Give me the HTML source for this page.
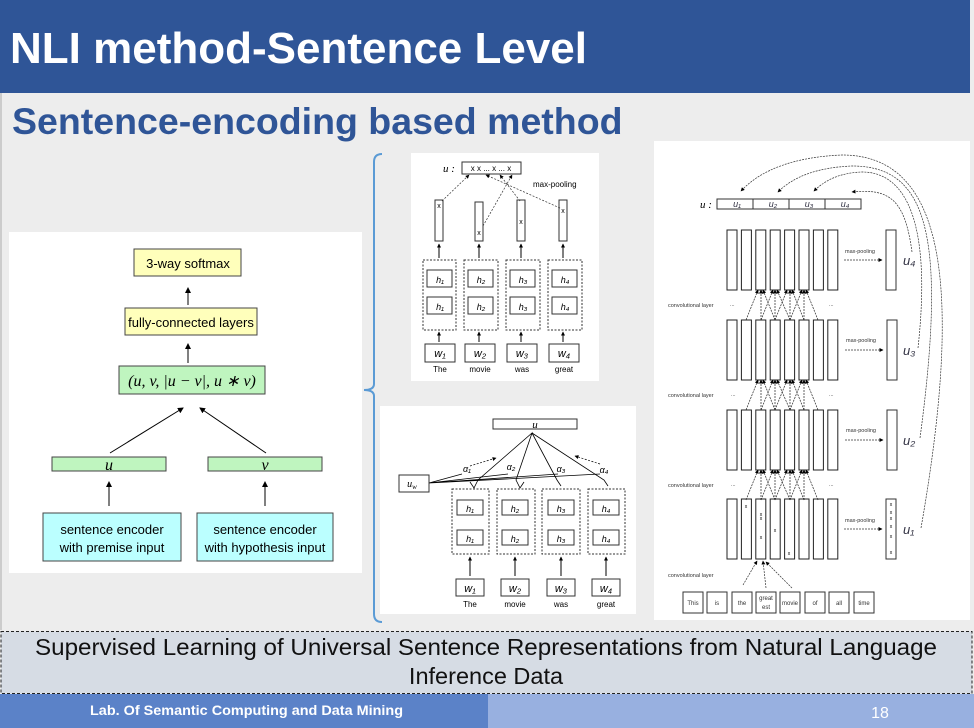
<!DOCTYPE html>
<html><head><meta charset="utf-8"><style>
html,body{margin:0;padding:0;background:#EDEDED;}
svg{display:block;}
text{font-family:"Liberation Sans",sans-serif;}
.m{font-family:"Liberation Serif",serif;font-style:italic;}
</style></head><body>
<svg width="974" height="728" viewBox="0 0 974 728" xmlns="http://www.w3.org/2000/svg">
<defs>
<marker id="a" markerWidth="6" markerHeight="6" refX="5" refY="3" orient="auto" markerUnits="userSpaceOnUse"><path d="M0,0 L6,3 L0,6 z" fill="#000"/></marker>
<marker id="s" markerWidth="4" markerHeight="4" refX="3.5" refY="2" orient="auto" markerUnits="userSpaceOnUse"><path d="M0,0 L4,2 L0,4 z" fill="#000"/></marker>
<g id="cols" fill="#fff" stroke="#222" stroke-width="1">
<rect x="727" y="0" width="10" height="60"/><rect x="741.4" y="0" width="10" height="60"/><rect x="755.8" y="0" width="10" height="60"/><rect x="770.2" y="0" width="10" height="60"/><rect x="784.6" y="0" width="10" height="60"/><rect x="799" y="0" width="10" height="60"/><rect x="813.4" y="0" width="10" height="60"/><rect x="827.8" y="0" width="10" height="60"/>
</g>
<g id="conv" stroke="#222" stroke-width="0.7" stroke-dasharray="2,1" marker-end="url(#s)">
<line x1="746" y1="30" x2="758" y2="0"/><line x1="761" y1="30" x2="761" y2="0"/><line x1="775" y1="30" x2="763" y2="0"/>
<line x1="761" y1="30" x2="773" y2="0"/><line x1="775" y1="30" x2="775" y2="0"/><line x1="790" y1="30" x2="777" y2="0"/>
<line x1="775" y1="30" x2="787" y2="0"/><line x1="790" y1="30" x2="790" y2="0"/><line x1="804" y1="30" x2="792" y2="0"/>
<line x1="790" y1="30" x2="802" y2="0"/><line x1="804" y1="30" x2="804" y2="0"/><line x1="818" y1="30" x2="806" y2="0"/>
</g>
</defs>

<!-- header -->
<rect x="0" y="0" width="970" height="93" fill="#2F5597"/>
<text x="10" y="63" font-size="44" font-weight="bold" fill="#fff">NLI method-Sentence Level</text>
<line x1="1" y1="93" x2="1" y2="630" stroke="#aaa"/>
<text x="12" y="134" font-size="37.5" font-weight="bold" fill="#2F5597">Sentence-encoding based method</text>

<!-- left diagram -->
<rect x="9" y="232" width="353" height="341" fill="#fff"/>
<g stroke="#444" stroke-width="1">
<rect x="134" y="249" width="107" height="27" fill="#FFFFBB"/>
<rect x="125" y="308" width="132" height="27" fill="#FFFFBB"/>
<rect x="119" y="366" width="146" height="28" fill="#BFF5BF"/>
<rect x="52" y="457" width="114" height="14" fill="#BFF5BF"/>
<rect x="208" y="457" width="114" height="14" fill="#BFF5BF"/>
<rect x="43" y="513" width="138" height="48" fill="#BBFFFF"/>
<rect x="197" y="513" width="136" height="48" fill="#BBFFFF"/>
</g>
<g stroke="#000" stroke-width="1" marker-end="url(#a)">
<line x1="188" y1="305" x2="188" y2="288"/>
<line x1="188" y1="363" x2="188" y2="344"/>
<line x1="110" y1="453" x2="183" y2="408"/>
<line x1="266" y1="453" x2="200" y2="408"/>
<line x1="109" y1="506" x2="109" y2="482"/>
<line x1="265" y1="506" x2="265" y2="482"/>
</g>
<g font-size="13" fill="#000" text-anchor="middle">
<text x="188" y="268">3-way softmax</text>
<text x="191" y="327">fully-connected layers</text>
<text x="112" y="534">sentence encoder</text>
<text x="112" y="552">with premise input</text>
<text x="265" y="534">sentence encoder</text>
<text x="265" y="552">with hypothesis input</text>
</g>
<text x="192" y="386" font-size="16" text-anchor="middle" class="m">(u, v, |u − v|, u ∗ v)</text>
<text x="109" y="470" font-size="16" text-anchor="middle" class="m">u</text>
<text x="265" y="470" font-size="16" text-anchor="middle" class="m">v</text>

<!-- bracket -->
<path d="M382,154 Q374,154 374,162 L374,384 Q374,390 364,390 Q374,390 374,396 L374,614 Q374,622 382,622" fill="none" stroke="#5B9BD5" stroke-width="2"/>

<!-- middle top -->
<rect x="411" y="153" width="188" height="228" fill="#fff"/>
<rect x="462" y="162" width="59" height="12" fill="#fff" stroke="#333"/>
<text x="443" y="172" font-size="11" class="m">u :</text>
<text x="491" y="171" font-size="8" text-anchor="middle">x  x ... x ... x</text>
<text x="533" y="187" font-size="8">max-pooling</text>
<g fill="#fff" stroke="#333">
<rect x="435" y="200" width="8" height="41"/><rect x="475" y="202" width="8" height="39"/><rect x="517" y="200" width="8" height="41"/><rect x="559" y="200" width="8" height="41"/>
</g>
<g font-size="7" text-anchor="middle"><text x="439" y="208">x</text><text x="479" y="235">x</text><text x="521" y="224">x</text><text x="563" y="213">x</text></g>
<g stroke="#333" stroke-width="0.7" stroke-dasharray="2,1.5" marker-end="url(#s)">
<line x1="442" y1="201" x2="469" y2="175"/><line x1="483" y1="226" x2="512" y2="175"/><line x1="520" y1="201" x2="500" y2="175"/><line x1="560" y1="208" x2="486" y2="175"/>
</g>
<g stroke="#000" stroke-width="1" marker-end="url(#s)">
<line x1="439" y1="258" x2="439" y2="244"/><line x1="479" y1="258" x2="479" y2="244"/><line x1="521" y1="258" x2="521" y2="244"/><line x1="563" y1="258" x2="563" y2="244"/>
<line x1="439" y1="342" x2="439" y2="332"/><line x1="479" y1="342" x2="479" y2="332"/><line x1="521" y1="342" x2="521" y2="332"/><line x1="563" y1="342" x2="563" y2="332"/>
</g>
<g fill="none" stroke="#333" stroke-dasharray="2,1.5"><rect x="423" y="260" width="33" height="70"/><rect x="464" y="260" width="34" height="70"/><rect x="506" y="260" width="34" height="70"/><rect x="548" y="260" width="34" height="70"/></g>
<g fill="#fff" stroke="#333"><rect x="427" y="270" width="25" height="17"/><rect x="468" y="270" width="25" height="17"/><rect x="510" y="270" width="25" height="17"/><rect x="552" y="270" width="25" height="17"/>
<rect x="427" y="297" width="25" height="17"/><rect x="468" y="297" width="25" height="17"/><rect x="510" y="297" width="25" height="17"/><rect x="552" y="297" width="25" height="17"/>
<rect x="425" y="344" width="30" height="18"/><rect x="465" y="344" width="30" height="18"/><rect x="507" y="344" width="30" height="18"/><rect x="549" y="344" width="30" height="18"/></g>
<g font-size="9" class="m" text-anchor="middle"><text x="440" y="283">h₁</text><text x="481" y="283">h₂</text><text x="523" y="283">h₃</text><text x="565" y="283">h₄</text>
<text x="440" y="310">h₁</text><text x="481" y="310">h₂</text><text x="523" y="310">h₃</text><text x="565" y="310">h₄</text>
<text x="440" y="357" font-size="11">w₁</text><text x="480" y="357" font-size="11">w₂</text><text x="522" y="357" font-size="11">w₃</text><text x="564" y="357" font-size="11">w₄</text></g>
<g font-size="8" text-anchor="middle"><text x="440" y="372">The</text><text x="480" y="372">movie</text><text x="522" y="372">was</text><text x="564" y="372">great</text></g>

<!-- middle bottom -->
<rect x="380" y="406" width="256" height="208" fill="#fff"/>
<rect x="493" y="419" width="84" height="10" fill="#fff" stroke="#333"/>
<text x="535" y="428" font-size="11" text-anchor="middle" class="m">u</text>
<rect x="399" y="475" width="30" height="17" fill="#fff" stroke="#333"/>
<text x="412" y="487" font-size="10" text-anchor="middle" class="m">u<tspan font-size="7" dy="2">w</tspan></text>
<g stroke="#000" stroke-width="0.8" fill="none">
<path d="M470,482 L474,488 L478,480 L532,433 L516,480 L520,488 L524,482 M532,433 L557,480 L561,486 M532,433 L604,480 L608,486"/>
<path d="M429,483 L462,474 M429,483 L508,474 M429,483 L558,474 M429,483 L600,474"/>
</g>
<g stroke="#000" stroke-width="0.7" stroke-dasharray="2,1.5" marker-end="url(#s)"><line x1="470" y1="466" x2="496" y2="458"/><line x1="600" y1="464" x2="575" y2="456"/></g>
<g font-size="9" class="m" text-anchor="middle"><text x="467" y="472">α₁</text><text x="511" y="470">α₂</text><text x="561" y="472">α₃</text><text x="604" y="473">α₄</text></g>
<g fill="none" stroke="#333" stroke-dasharray="2,1.5"><rect x="452" y="489" width="37" height="65"/><rect x="497" y="489" width="38" height="65"/><rect x="542" y="489" width="38" height="65"/><rect x="588" y="489" width="37" height="65"/></g>
<g fill="#fff" stroke="#333"><rect x="457" y="500" width="26" height="15"/><rect x="502" y="500" width="26" height="15"/><rect x="548" y="500" width="26" height="15"/><rect x="593" y="500" width="26" height="15"/>
<rect x="457" y="530" width="26" height="15"/><rect x="502" y="530" width="26" height="15"/><rect x="548" y="530" width="26" height="15"/><rect x="593" y="530" width="26" height="15"/>
<rect x="456" y="579" width="28" height="17"/><rect x="501" y="579" width="28" height="17"/><rect x="547" y="579" width="28" height="17"/><rect x="592" y="579" width="28" height="17"/></g>
<g stroke="#000" stroke-width="1" marker-end="url(#s)"><line x1="470" y1="576" x2="470" y2="557"/><line x1="515" y1="576" x2="515" y2="557"/><line x1="561" y1="576" x2="561" y2="557"/><line x1="606" y1="576" x2="606" y2="557"/></g>
<g font-size="9" class="m" text-anchor="middle"><text x="470" y="512">h₁</text><text x="515" y="512">h₂</text><text x="561" y="512">h₃</text><text x="606" y="512">h₄</text>
<text x="470" y="542">h₁</text><text x="515" y="542">h₂</text><text x="561" y="542">h₃</text><text x="606" y="542">h₄</text>
<text x="470" y="592" font-size="11">w₁</text><text x="515" y="592" font-size="11">w₂</text><text x="561" y="592" font-size="11">w₃</text><text x="606" y="592" font-size="11">w₄</text></g>
<g font-size="8" text-anchor="middle"><text x="470" y="607">The</text><text x="515" y="607">movie</text><text x="561" y="607">was</text><text x="606" y="607">great</text></g>

<!-- right diagram -->
<rect x="654" y="141" width="316" height="479" fill="#fff"/>
<text x="700" y="208" font-size="11" class="m">u :</text>
<rect x="717" y="199" width="144" height="10" fill="#fff" stroke="#333"/>
<g stroke="#333"><line x1="753" y1="199" x2="753" y2="209"/><line x1="789" y1="199" x2="789" y2="209"/><line x1="825" y1="199" x2="825" y2="209"/></g>
<g font-size="9" class="m" text-anchor="middle" fill="#334"><text x="737" y="207">u₁</text><text x="773" y="207">u₂</text><text x="809" y="207">u₃</text><text x="845" y="207">u₄</text></g>
<use href="#cols" transform="translate(0,230)"/><use href="#cols" transform="translate(0,320)"/><use href="#cols" transform="translate(0,410)"/><use href="#cols" transform="translate(0,499)"/>
<use href="#conv" transform="translate(0,290)"/><use href="#conv" transform="translate(0,380)"/><use href="#conv" transform="translate(0,470)"/>
<g fill="#fff" stroke="#333"><rect x="886" y="230" width="10" height="60"/><rect x="887" y="320" width="10" height="60"/><rect x="887" y="410" width="10" height="60"/><rect x="886" y="499" width="10" height="60"/></g>
<g font-size="5.5" fill="#333"><text x="845" y="253">max-pooling</text><text x="846" y="342">max-pooling</text><text x="846" y="432">max-pooling</text><text x="845" y="522">max-pooling</text>
<text x="668" y="307">convolutional layer</text><text x="668" y="397">convolutional layer</text><text x="668" y="487">convolutional layer</text><text x="668" y="577">convolutional layer</text>
<text x="730" y="306">...</text><text x="829" y="306">...</text><text x="731" y="396">...</text><text x="829" y="396">...</text><text x="731" y="486">...</text><text x="829" y="486">...</text></g>
<g stroke="#333" stroke-width="0.7" stroke-dasharray="2,1" marker-end="url(#s)"><line x1="844" y1="260" x2="882" y2="260"/><line x1="845" y1="350" x2="883" y2="350"/><line x1="845" y1="440" x2="883" y2="440"/><line x1="844" y1="529" x2="882" y2="529"/>
<line x1="743" y1="585" x2="757" y2="561"/><line x1="766" y1="588" x2="763" y2="561"/><line x1="792" y1="588" x2="766" y2="562"/></g>
<g font-size="13" class="m" fill="#334"><text x="903" y="265">u₄</text><text x="903" y="355">u₃</text><text x="903" y="445">u₂</text><text x="903" y="534">u₁</text></g>
<g font-size="5" text-anchor="middle"><text x="746" y="508">x</text><text x="761" y="516">x</text><text x="761" y="520">x</text><text x="761" y="539">x</text><text x="775" y="532">x</text><text x="789" y="555">x</text>
<text x="891" y="506">x</text><text x="891" y="514">x</text><text x="891" y="520">x</text><text x="891" y="528">x</text><text x="891" y="538">x</text><text x="891" y="554">x</text></g>
<g fill="none" stroke="#333" stroke-width="0.7" stroke-dasharray="2,1">
<path d="M912,252 C905,200 890,188 852,192" marker-end="url(#s)"/>
<path d="M918,348 C932,220 905,172 862,172 Q832,173 814,191" marker-end="url(#s)"/>
<path d="M920,438 C948,230 925,166 852,166 Q802,168 778,192" marker-end="url(#s)"/>
<path d="M921,528 C968,260 935,155 842,155 Q772,158 741,191" marker-end="url(#s)"/>
</g>
<g fill="#fff" stroke="#333"><rect x="683" y="592" width="20" height="21"/><rect x="707" y="592" width="20" height="21"/><rect x="732" y="592" width="20" height="21"/><rect x="756" y="592" width="20" height="21"/><rect x="780" y="592" width="20" height="21"/><rect x="805" y="592" width="20" height="21"/><rect x="829" y="592" width="20" height="21"/><rect x="854" y="592" width="20" height="21"/></g>
<g font-size="6" text-anchor="middle" fill="#333"><text x="693" y="605">This</text><text x="717" y="605">is</text><text x="742" y="605">the</text><text x="766" y="600">great</text><text x="766" y="609">est</text><text x="790" y="605">movie</text><text x="815" y="605">of</text><text x="839" y="605">all</text><text x="864" y="605">time</text></g>

<!-- caption -->
<rect x="1" y="631.5" width="971" height="62" fill="#D6DCE4" stroke="#222" stroke-dasharray="3,2"/>
<text x="486" y="655" font-size="23.5" text-anchor="middle" fill="#111" textLength="902" lengthAdjust="spacingAndGlyphs">Supervised Learning of Universal Sentence Representations from Natural Language</text>
<text x="486" y="684" font-size="23.5" text-anchor="middle" fill="#111">Inference Data</text>

<!-- footer -->
<rect x="0" y="694" width="488" height="34" fill="#5B82C8"/>
<rect x="488" y="694" width="486" height="34" fill="#98B0E0"/>
<text x="90" y="715" font-size="14" font-weight="bold" fill="#fff" textLength="313" lengthAdjust="spacingAndGlyphs">Lab. Of Semantic Computing and Data Mining</text>
<text x="880" y="718" font-size="16" text-anchor="middle" fill="#fff">18</text>
</svg>
</body></html>
